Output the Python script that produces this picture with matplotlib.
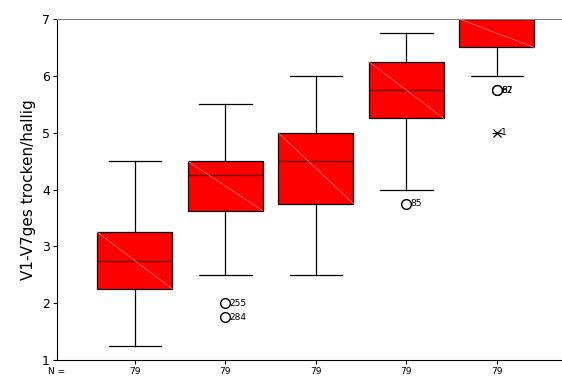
import matplotlib.pyplot as plt

# box statistics
whislo = [1.25, 2.5, 2.5, 4.0, 6.0]
q1 = [2.25, 3.625, 3.75, 5.25, 6.5]
med = [2.75, 4.25, 4.5, 5.75, 7.0]
q3 = [3.25, 4.5, 5.0, 6.25, 7.0]
whishi = [4.5, 5.5, 6.0, 6.75, 7.0]
n_counts = [79, 79, 79, 79, 79]

# outliers: (group, value, label)
outliers = [(2, 2.0, "255"), (2, 1.75, "284"), (4, 3.75, "85"),
            (5, 5.75, "67"), (5, 5.75, "82")]
extremes = [(5, 5.0, "1")]

fig = plt.figure(figsize=(5.62, 3.78), dpi=100)
ax = fig.add_axes([0.1014, 0.0476, 0.8986, 0.9021])

stats = []
for i in range(len(med)):
    stats.append(dict(whislo=whislo[i], q1=q1[i], med=med[i], q3=q3[i],
                      whishi=whishi[i], fliers=[]))
pos = list(range(1, len(med) + 1))
bp = ax.bxp(stats, positions=pos, widths=0.83, patch_artist=True,
            boxprops=dict(facecolor="#ff0000", edgecolor="black", linewidth=0.9),
            medianprops=dict(color="#6b0000", linewidth=1.0),
            whiskerprops=dict(color="black", linewidth=0.9),
            capprops=dict(color="black", linewidth=0.9),
            capwidths=0.58)

# faint diagonal inside each box
for p, lo, hi in zip(pos, q1, q3):
    ax.plot([p - 0.415, p + 0.415], [hi, lo], color="#ff8080", lw=0.5, zorder=3)

for g, v, lab in outliers:
    ax.plot(g, v, "o", mfc="white", mec="black", ms=7, mew=1.0, zorder=4)
    ax.text(g + 0.05, v, lab, fontsize=6.5, va="center", ha="left")
for g, v, lab in extremes:
    ax.plot(g, v, "x", color="black", ms=6, mew=0.9, zorder=4)
    ax.plot(g, v, "_", color="black", ms=7, mew=0.9, zorder=4)
    ax.text(g + 0.045, v, lab, fontsize=6.5, va="center", ha="left")

ax.set_xlim(0.14, 5.72)
ax.set_ylim(1, 7)
ax.set_yticks([1, 2, 3, 4, 5, 6, 7])
ax.set_xticks(pos)
ax.set_xticklabels([str(n) for n in n_counts], fontsize=6.5)
ax.tick_params(axis="y", labelsize=9, length=3, pad=2)
ax.tick_params(axis="x", length=3, pad=2)
ax.spines["right"].set_visible(False)
ax.spines["top"].set_color("#808080")
ax.set_ylabel("V1-V7ges trocken/hallig", fontsize=11, labelpad=4)
ax.text(0.0, -0.02, "N =", transform=ax.transAxes, fontsize=6.5,
        ha="center", va="top")

fig.savefig("out.png", dpi=100)
